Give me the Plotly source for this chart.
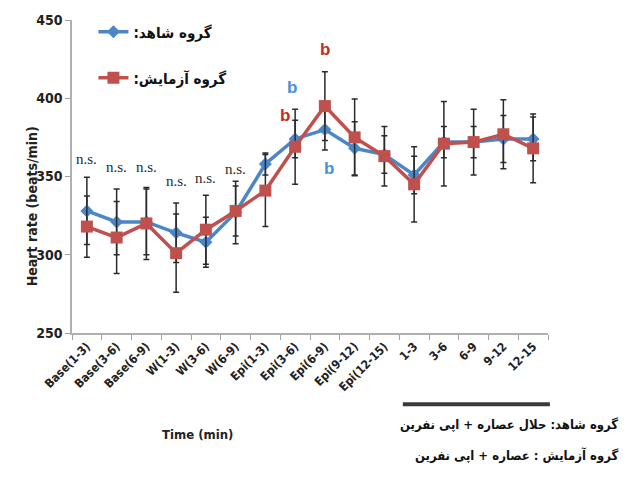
import plotly.graph_objects as go

categories = ["Base(1-3)", "Base(3-6)", "Base(6-9)", "W(1-3)", "W(3-6)", "W(6-9)",
              "Epi(1-3)", "Epi(3-6)", "Epi(6-9)", "Epi(9-12)", "Epi(12-15)",
              "1-3", "3-6", "6-9", "9-12", "12-15"]
control = [328, 321, 321, 314, 308, 327, 358, 374, 380, 368, 364, 351, 372, 372, 374, 374]
control_err = [21.5, 21, 21, 19, 16, 20, 7, 12, 13, 17, 12, 12, 10, 10, 15, 14]
treated = [318, 311, 320, 301, 316, 328, 341, 369, 395, 375, 363, 345, 371, 372, 377, 368]
treated_err = [19.6, 23, 23, 25, 22, 16, 23, 24, 22, 24.5, 19, 24, 27, 21, 22, 22]

ns_idx = [0, 1, 2, 3, 4, 5]
ns_y = [361, 356, 356, 347, 349, 355]
b_labels = [(7, 407, "#4a8fd8", -0.1), (7, 389, "#c42a2a", -0.35), (8, 431, "#c42a2a", 0.0), (8, 355, "#4a8fd8", 0.15)]

blue = "#4a86c8"
red = "#c0504d"

fig = go.Figure()
fig.add_trace(go.Scatter(
    x=categories, y=control, mode="lines+markers", name="گروه شاهد:\u200f",
    line=dict(color=blue, width=3.5),
    marker=dict(symbol="diamond", size=10, color=blue),
    error_y=dict(type="data", array=control_err, visible=True, color="#2a2a2a", thickness=1.5, width=3),
    legend="legend", showlegend=True))
fig.add_trace(go.Scatter(
    x=categories, y=treated, mode="lines+markers", name="گروه آزمایش:\u200f",
    line=dict(color=red, width=3.5),
    marker=dict(symbol="square", size=12, color=red),
    error_y=dict(type="data", array=treated_err, visible=True, color="#2a2a2a", thickness=1.5, width=3),
    legend="legend2", showlegend=True))

for i, yv in zip(ns_idx, ns_y):
    fig.add_annotation(x=categories[i], y=yv, text="n.s.", showarrow=False,
                       font=dict(family="Liberation Serif", size=15, color="#2a2a2a"))
for i, yv, col, dx in b_labels:
    fig.add_annotation(x=i + dx, y=yv, text="<b>b</b>", showarrow=False,
                       font=dict(family="Liberation Sans", size=17, color=col))

fig.add_annotation(xref="paper", yref="paper", x=-0.105, y=0.405, textangle=-90,
                   text="<b>Heart rate (beats/min)</b>", showarrow=False,
                   font=dict(family="DejaVu Sans Condensed", size=14, color="#222"))
fig.add_annotation(xref="paper", yref="paper", x=0.185, y=-0.354,
                   text="<b>Time (min)</b>", showarrow=False,
                   font=dict(family="DejaVu Sans Condensed", size=13, color="#222"))
fig.add_annotation(xref="paper", yref="paper", x=1.151, y=-0.323, xanchor="right",
                   text="<b>گروه شاهد: حلال عصاره + اپی نفرین</b>", showarrow=False,
                   font=dict(family="DejaVu Sans Condensed", size=13, color="#111"))
fig.add_annotation(xref="paper", yref="paper", x=1.151, y=-0.421, xanchor="right",
                   text="<b>گروه آزمایش : عصاره + اپی نفرین</b>", showarrow=False,
                   font=dict(family="DejaVu Sans Condensed", size=13, color="#111"))
fig.add_shape(type="line", xref="paper", yref="paper", x0=0.695, x1=1.004, y0=-0.228, y1=-0.228,
              line=dict(color="#3a3a3a", width=4))

legend_common = dict(bgcolor="rgba(0,0,0,0)", itemwidth=30,
                     font=dict(family="DejaVu Sans Condensed", size=15, color="#111", weight="bold"),
                     xanchor="left", yanchor="middle")
fig.update_layout(
    width=626, height=495, showlegend=True,
    margin=dict(l=72, r=78, t=17, b=162),
    paper_bgcolor="white", plot_bgcolor="white",
    legend=dict(x=0.045, y=0.962, **legend_common),
    legend2=dict(x=0.045, y=0.815, **legend_common),
    xaxis=dict(type="category", range=[-0.5, 15.5], tickson="boundaries", ticks="outside",
               ticklen=5, tickcolor="#a0a0a0", showline=True, linecolor="#b0b0b0", linewidth=1.5,
               tickangle=-45, showgrid=False,
               tickfont=dict(family="DejaVu Sans Condensed", size=12,
                             color="#222", weight="bold")),
    yaxis=dict(range=[250, 450], dtick=50, ticks="outside", ticklen=5, tickcolor="#a0a0a0",
               showline=True, linecolor="#b0b0b0", linewidth=1.5, showgrid=False, zeroline=False,
               tickfont=dict(family="DejaVu Sans Condensed", size=14,
                             color="#222", weight="bold")),
)

fig.write_html("out.html")
